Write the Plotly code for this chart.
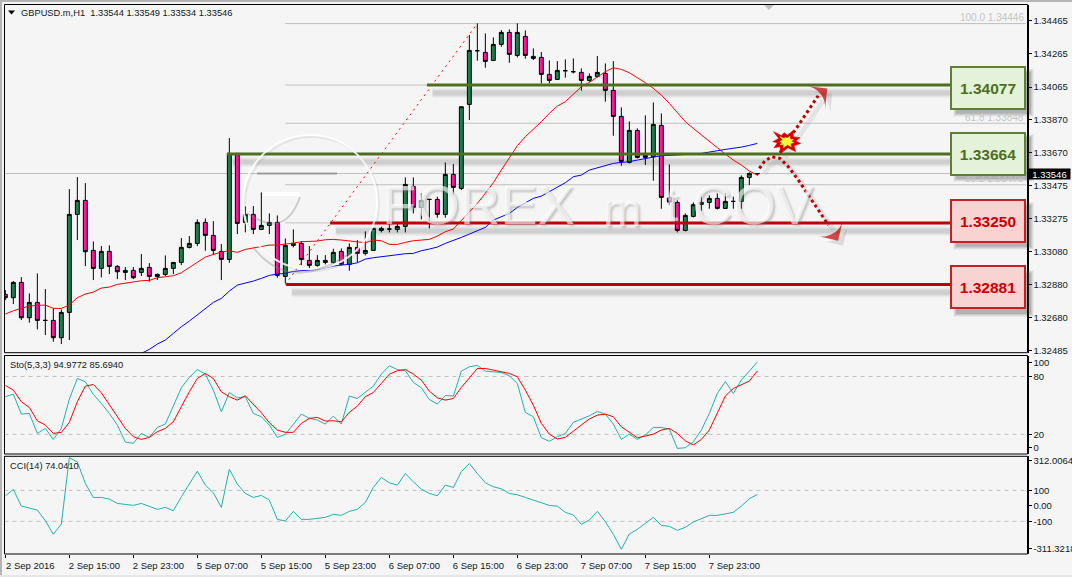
import plotly.graph_objects as go

# GBPUSD.m H1 candles, one row per bar, plus indicator series
opens = [1.32821,1.32801,1.32893,1.32681,1.32773,1.32665,1.32665,1.32561,1.32713,1.33301,
         1.33385,1.33085,1.32977,1.33079,1.32989,1.32953,1.32965,1.32953,1.32983,1.32929,
         1.32941,1.32977,1.33013,1.33103,1.33127,1.33253,1.33175,1.33079,1.33031,1.33667,
         1.33253,1.33301,1.33211,1.33235,1.33253,1.32929,1.33115,1.33127,1.33025,1.32995,
         1.33025,1.33013,1.33079,1.33001,1.33103,1.33067,1.33085,1.33205,1.33213,1.33211,
         1.33229,1.33469,1.33343,1.33391,1.33391,1.33301,1.33541,1.33457,1.33961,1.34283,
         1.34273,1.34225,1.34321,1.34393,1.34255,1.34369,1.34249,1.34243,1.34141,1.34111,
         1.34163,1.34157,1.34153,1.34105,1.34129,1.34147,1.34045,1.33889,1.33613,1.33805,
         1.33643,1.33647,1.33835,1.33403,1.33373,1.33205,1.33289,1.33361,1.33373,1.33397,
         1.33337,1.33379,1.33379,1.33523,1.33544]
highs = [1.32847,1.32901,1.32925,1.32827,1.32947,1.32853,1.32737,1.32731,1.33453,1.33525,
         1.33489,1.33139,1.33111,1.33115,1.32997,1.32985,1.32985,1.33063,1.33009,1.32947,
         1.33055,1.33013,1.33159,1.33171,1.33271,1.33277,1.33261,1.33123,1.33759,1.33667,
         1.33349,1.33351,1.33433,1.33307,1.33295,1.33157,1.33211,1.33141,1.33111,1.33057,
         1.33057,1.33095,1.33097,1.33127,1.33147,1.33199,1.33217,1.33227,1.33265,1.33257,
         1.33523,1.33523,1.33427,1.33391,1.33407,1.33613,1.33603,1.33947,1.34377,1.34447,
         1.34387,1.34363,1.34407,1.34411,1.34447,1.34405,1.34297,1.34275,1.34225,1.34221,
         1.34231,1.34237,1.34177,1.34147,1.34251,1.34207,1.34221,1.33943,1.33859,1.33817,
         1.33895,1.33973,1.33907,1.33601,1.33385,1.33307,1.33373,1.33407,1.33415,1.33427,
         1.33429,1.33407,1.33535,1.33553,1.33549]
lows = [1.32787,1.32763,1.32667,1.32651,1.32611,1.32577,1.32537,1.32523,1.32547,1.33147,
        1.32991,1.32907,1.32923,1.32943,1.32913,1.32907,1.32913,1.32931,1.32897,1.32907,
        1.32931,1.32943,1.32997,1.33097,1.33111,1.33083,1.33057,1.32907,1.33011,1.33183,
        1.33193,1.33183,1.33207,1.33183,1.32921,1.32887,1.33103,1.32997,1.32971,1.32987,
        1.33001,1.33007,1.32995,1.32963,1.33013,1.33055,1.33083,1.33193,1.33193,1.33193,
        1.33193,1.33307,1.33271,1.33217,1.33281,1.33281,1.33417,1.33447,1.33867,1.34223,
        1.34181,1.34221,1.34307,1.34211,1.34243,1.34235,1.34227,1.34087,1.34087,1.34107,
        1.34121,1.34147,1.34043,1.34097,1.34123,1.33977,1.33773,1.33593,1.33607,1.33637,
        1.33597,1.33503,1.33335,1.33355,1.33193,1.33199,1.33283,1.33323,1.33335,1.33331,
        1.33335,1.33335,1.33335,1.33477,1.33534]
closes = [1.32801,1.32893,1.32681,1.32773,1.32665,1.32665,1.32561,1.32713,1.33301,1.33385,
          1.33077,1.32977,1.33079,1.32989,1.32957,1.32965,1.32921,1.32977,1.32929,1.32941,
          1.32977,1.33013,1.33103,1.33127,1.33253,1.33175,1.33085,1.33031,1.33667,1.33247,
          1.33301,1.33211,1.33235,1.33253,1.32935,1.33115,1.33127,1.33031,1.32995,1.33025,
          1.33013,1.33073,1.33001,1.33103,1.33067,1.33085,1.33217,1.33217,1.33213,1.33229,
          1.33481,1.33343,1.33385,1.33391,1.33301,1.33541,1.33463,1.33947,1.34285,1.34283,
          1.34219,1.34321,1.34393,1.34261,1.34393,1.34255,1.34237,1.34141,1.34105,1.34165,
          1.34163,1.34157,1.34105,1.34129,1.34153,1.34045,1.33889,1.33619,1.33805,1.33643,
          1.33655,1.33841,1.33403,1.33375,1.33205,1.33295,1.33359,1.33373,1.33397,1.33337,
          1.33379,1.33379,1.33523,1.33547,1.33546]

ma_fast = [1.32703,1.32723,1.32737,1.32751,1.32755,1.32757,1.32737,1.32737,1.32757,1.32801,
           1.32823,1.32835,1.32859,1.32865,1.32881,1.32889,1.32897,1.32903,1.32905,1.32921,
           1.32927,1.32933,1.32951,1.32983,1.33013,1.33045,1.33061,1.33075,1.33083,1.33073,
           1.33091,1.33101,1.33109,1.33117,1.33117,1.33121,1.33129,1.33137,1.33139,1.33141,
           1.33149,1.33151,1.33147,1.33141,1.33137,1.33131,1.33147,1.33143,1.33121,1.33121,
           1.33133,1.33143,1.33147,1.33151,1.33171,1.33197,1.33213,1.33263,1.33317,1.33367,
           1.33427,1.33491,1.33567,1.33637,1.33713,1.33767,1.33811,1.33857,1.33907,1.33951,
           1.33977,1.34021,1.34067,1.34093,1.34123,1.34157,1.34181,1.34171,1.34151,1.34123,
           1.34091,1.34057,1.34017,1.33967,1.33911,1.33857,1.33817,1.33777,1.33737,1.33701,
           1.33663,1.33627,1.33597,1.33561,1.33537]
ma_slow = [None]*17 + [
           1.32467,1.32491,1.32523,
           1.32547,1.32587,1.32627,1.32661,1.32697,1.32737,1.32773,1.32797,1.32841,1.32877,
           1.32887,1.32901,1.32917,1.32935,1.32943,1.32947,1.32959,1.32965,1.32967,1.32971,
           1.32983,1.32991,1.32997,1.33001,1.33011,1.33033,1.33041,1.33047,1.33053,1.33061,
           1.33065,1.33067,1.33083,1.33093,1.33105,1.33127,1.33143,1.33163,1.33183,1.33203,
           1.33223,1.33267,1.33287,1.33307,1.33343,1.33371,1.33397,1.33411,1.33437,1.33467,
           1.33491,1.33527,1.33537,1.33567,1.33581,1.33593,1.33607,1.33613,1.33617,1.33627,
           1.33635,1.33647,1.33653,1.33655,1.33657,1.33657,1.33663,1.33667,1.33673,1.33683,
           1.33691,1.33697,1.33705,1.33715,1.33727]

sto_main = [59.0,61.7,41.0,41.7,21.0,26.2,14.8,26.2,56.6,77.9,
            74.5,61.4,52.1,41.7,29.7,12.1,10.7,21.0,16.9,27.2,
            30.7,48.6,68.3,79.0,87.2,82.4,65.9,43.4,63.4,57.9,
            59.0,41.7,38.3,29.7,16.9,20.0,30.7,41.0,36.6,34.8,
            30.7,39.0,30.7,59.7,57.2,64.1,70.0,82.4,91.0,87.2,
            85.9,73.8,68.3,56.2,51.4,60.3,59.7,85.5,90.0,91.4,
            85.5,84.8,84.1,80.7,72.8,42.8,38.3,16.6,12.8,17.6,
            21.0,32.4,35.9,39.3,43.8,41.0,30.7,14.8,20.3,14.8,
            19.3,27.2,27.2,25.5,5.5,6.2,12.4,24.5,41.7,62.4,
            74.8,62.4,76.2,85.9,94.9772]
sto_signal = [70.7,65.9,53.8,47.9,34.1,29.7,21.0,22.1,32.4,53.8,
              70.0,71.7,63.1,51.0,39.0,26.2,17.6,14.8,16.9,22.8,
              26.2,33.1,48.6,64.1,77.9,83.1,77.9,64.1,59.0,55.5,
              60.0,51.0,42.4,32.1,24.5,22.1,22.1,31.4,36.6,37.6,
              33.8,34.1,33.1,42.8,49.3,59.0,63.4,72.8,82.4,85.9,
              87.2,82.4,76.2,64.8,57.9,55.5,57.2,68.6,79.0,88.3,
              88.3,86.6,84.5,83.1,79.7,65.9,50.3,31.4,20.3,15.2,
              16.9,23.8,29.7,35.9,40.0,41.0,38.3,27.9,22.1,16.6,
              18.3,20.3,24.5,26.2,21.0,13.4,9.0,14.8,24.5,41.7,
              59.7,67.6,71.7,75.2,85.694]
cci = [65.6,106.5,-1.1,-16.1,-26.9,-95.7,-183.9,-117.2,312.0,285.0,
       145.2,54.8,54.8,44.1,16.1,9.7,3.2,16.1,-5.4,-22.6,
       -9.7,-31.2,59.1,145.2,224.7,134.4,84.9,-9.7,237.6,140.9,
       80.6,54.8,67.7,37.6,-87.1,-97.8,-35.5,-87.1,-87.1,-80.6,
       -74.2,-54.8,-61.3,-35.5,-22.6,22.6,119.4,183.9,149.5,134.4,
       209.7,155.9,108.6,80.6,65.6,134.4,119.4,220.4,274.2,209.7,
       149.5,123.7,110.8,80.6,72.0,54.8,39.8,20.4,3.2,-1.1,
       -41.9,-59.1,-119.4,-91.4,-35.5,-102.2,-183.9,-280.6,-181.7,-151.6,
       -112.9,-74.2,-125.8,-132.3,-158.1,-138.7,-104.3,-82.8,-61.3,-61.3,
       -50.5,-41.9,-1.1,46.2,74.041]

time_tick_bars = [0, 8, 16, 24, 32, 40, 48, 56, 64, 72, 80, 88]
time_tick_labels = ["2 Sep 2016", "2 Sep 15:00", "2 Sep 23:00", "5 Sep 07:00", "5 Sep 15:00",
                    "5 Sep 23:00", "6 Sep 07:00", "6 Sep 15:00", "6 Sep 23:00", "7 Sep 07:00",
                    "7 Sep 15:00", "7 Sep 23:00"]
price_ticks = [1.34465, 1.34265, 1.34065, 1.33870, 1.33670, 1.33475, 1.33275, 1.33080,
               1.32880, 1.32680, 1.32485]
price_labels = [f"{p:.5f}" for p in price_ticks]

# Support and resistance levels: value, first bar of the line, vertical nudge of the tag
resistance_levels = [1.34077, 1.33664]
resistance_starts = [52.7, 27.7]
resistance_nudge = [-3, 0]
support_levels = [1.33250, 1.32881]
support_starts = [40.6, 35.1]
support_nudge = [2, -3]

fib_levels = [1.34446, 1.34077, 1.33848, 1.33479, 1.33250, 1.32881]
fib_labels = {1.34446: "100.0 1.34446", 1.33848: "61.8 1.33848", 1.33479: "38.2 1.33479"}
last_price = 1.33546

# Scenario arrows, as bar number and price
up_path_bars = [96.83, 101.6]
up_path_prices = [1.33671, 1.34013]
up_head_bars = [101.6, 102.75]
up_head_prices = [1.34013, 1.34057]
down_path_bars = [94.25, 94.96, 95.79, 96.83, 97.88, 99.13, 100.38, 101.63, 102.88]
down_path_prices = [1.33577, 1.33623, 1.33647, 1.33637, 1.33587, 1.33507, 1.33417, 1.33327, 1.33237]
down_head_bars = [102.88, 104.1]
down_head_prices = [1.33237, 1.33143]

WIDTH, HEIGHT = 1072, 577
GREEN_DARK = "#4d6f1f"
RED_DARK = "#c00000"
TEXT = "#101820"
FONT = "Liberation Sans"

PRICE_TOP, PRICE_PER_PX = 1.345874, 0.00006


def px_x(x):
    return x / WIDTH


def px_y(y):
    return 1 - y / HEIGHT


def bar_x(x):
    return (x - 5.33) / 8


def price_y(y):
    return PRICE_TOP - PRICE_PER_PX * y


fig = go.Figure()

# Fibonacci trend line from swing low to swing high
fig.add_trace(go.Scatter(x=[35, 59], y=[1.32881, 1.34446], mode="lines",
                         line=dict(color="#ff0000", width=1, dash="2px,4px"), yaxis="y"))

fig.add_trace(go.Candlestick(
    x=list(range(len(opens))), open=opens, high=highs, low=lows, close=closes, yaxis="y",
    increasing=dict(line=dict(color="#000000", width=1), fillcolor="#1f7d4d"),
    decreasing=dict(line=dict(color="#000000", width=1), fillcolor="#ff1493"),
    whiskerwidth=0))

bars = list(range(len(opens)))
fig.add_trace(go.Scatter(x=bars, y=ma_fast, mode="lines", line=dict(color="#ff0000", width=1), yaxis="y"))
fig.add_trace(go.Scatter(x=bars, y=ma_slow, mode="lines", line=dict(color="#0000ff", width=1), yaxis="y"))

# Level lines run from their anchor bar up to the value tags
for levels, starts, colour in ((resistance_levels, resistance_starts, GREEN_DARK),
                               (support_levels, support_starts, RED_DARK)):
    for level, start in zip(levels, starts):
        fig.add_trace(go.Scatter(x=[start, 118.3], y=[level, level], mode="lines",
                                 line=dict(color=colour, width=3), yaxis="y"))

# Arrow shadows, then the arrows themselves
shift_x, shift_y = 5 / 8, 5 * PRICE_PER_PX
for path_x, path_y in ((up_path_bars, up_path_prices), (down_path_bars, down_path_prices)):
    fig.add_trace(go.Scatter(x=[v + shift_x for v in path_x], y=[v - shift_y for v in path_y],
                             mode="lines", line=dict(color="rgba(110,110,110,0.12)", width=5), yaxis="y"))
for head_x, head_y in ((up_head_bars, up_head_prices), (down_head_bars, down_head_prices)):
    fig.add_trace(go.Scatter(x=[v + shift_x for v in head_x], y=[v - shift_y for v in head_y], mode="markers",
                             marker=dict(symbol="arrow-wide", size=[0, 21], color="rgba(110,110,110,0.25)",
                                         angleref="previous", line=dict(width=0)), yaxis="y"))
    fig.add_trace(go.Scatter(x=head_x, y=head_y, mode="markers",
                             marker=dict(symbol="arrow-wide", size=[0, 21], color=RED_DARK,
                                         angleref="previous", line=dict(width=0)), yaxis="y"))
for path_x, path_y in ((up_path_bars, up_path_prices), (down_path_bars, down_path_prices)):
    fig.add_trace(go.Scatter(x=path_x, y=path_y, mode="lines",
                             line=dict(color=RED_DARK, width=3, dash="3px,3px"), yaxis="y"))

# Breakout burst drawn as two filled spiked outlines
burst_dx = [-13.3, -5.3, -2.7, 0.7, 6.3, 6.7, 13.3, 9, 14, 7.3, 9, 1.3, -6, -6.7, -12.7, -9.3, -14, -8, -13.3]
burst_dy = [10, 6.3, 9, 6.7, 11, 5, 4, 0.7, -1.7, -4, -10, -6, -11.7, -5, -6, -1, 0, 3.3, 10]
burst_bar, burst_price = bar_x(786.7), price_y(141.7)
for scale, fill in ((1.0, "#d80000"), (0.5, "#ffff3c")):
    fig.add_trace(go.Scatter(x=[burst_bar + scale * d / 8 for d in burst_dx],
                             y=[burst_price + scale * d * PRICE_PER_PX for d in burst_dy],
                             mode="lines", fill="toself", fillcolor=fill,
                             line=dict(color=fill, width=0.5), yaxis="y"))

# Stochastic and CCI panes
fig.add_trace(go.Scatter(x=bars, y=sto_main, mode="lines", line=dict(color="#20b2aa", width=1), yaxis="y2"))
fig.add_trace(go.Scatter(x=bars, y=sto_signal, mode="lines", line=dict(color="#ff0000", width=1), yaxis="y2"))
fig.add_trace(go.Scatter(x=bars, y=cci, mode="lines", line=dict(color="#20b2aa", width=1), yaxis="y3"))

shapes = []
FRAME_L, FRAME_R = 4.5, 1027.5
x_left, x_right = bar_x(FRAME_L), bar_x(FRAME_R)
fib_right = bar_x(1026)

# Window chrome along the top and left edges
shapes.append(dict(type="rect", xref="paper", yref="paper", x0=0, x1=1, y0=px_y(2), y1=1,
                   fillcolor="#b4b4b4", line=dict(width=0), layer="below"))
shapes.append(dict(type="rect", xref="paper", yref="paper", x0=0, x1=px_x(2), y0=0, y1=1,
                   fillcolor="#b4b4b4", line=dict(width=0), layer="below"))
shapes.append(dict(type="rect", xref="paper", yref="paper", x0=0, x1=1, y0=0, y1=px_y(575),
                   fillcolor="#e6e6e6", line=dict(width=0), layer="below"))

# Fibonacci levels and the running price line
for level in fib_levels:
    shapes.append(dict(type="line", xref="x", yref="y", x0=35, x1=fib_right, y0=level, y1=level,
                       line=dict(color="#c0c0c0", width=1), layer="below"))
shapes.append(dict(type="line", xref="x", yref="y", x0=x_left, x1=x_right, y0=last_price, y1=last_price,
                   line=dict(color="#c0c0c0", width=1), layer="below"))

# Soft shadows under the level lines
for levels, starts in ((resistance_levels, resistance_starts), (support_levels, support_starts)):
    for level, start in zip(levels, starts):
        for half, alpha in ((5, 0.05), (4, 0.06), (3, 0.07), (2, 0.08)):
            shapes.append(dict(type="rect", xref="x", yref="y", x0=start + 0.7, x1=118.3,
                               y0=level - (8 + half) * PRICE_PER_PX, y1=level - (8 - half) * PRICE_PER_PX,
                               fillcolor=f"rgba(90,90,90,{alpha})", line=dict(width=0), layer="below"))

# Dashed overbought and oversold guides
for axis, guides in (("y2", (80, 20)), ("y3", (100, -100))):
    for guide in guides:
        shapes.append(dict(type="line", xref="x", yref=axis, x0=x_left, x1=x_right, y0=guide, y1=guide,
                           line=dict(color="#c0c0c0", width=1, dash="4px,4px"), layer="below"))

# Soft shadows behind the value tags
for top, bottom in ((66.7, 108.7), (132, 174), (200, 241.7), (268, 309)):
    for grow, alpha in ((3, 0.06), (2, 0.09), (1, 0.12), (0, 0.16)):
        shapes.append(dict(type="rect", xref="paper", yref="paper",
                           x0=px_x(956 - grow), x1=px_x(1031 + grow),
                           y0=px_y(bottom + 5 + grow), y1=px_y(top + 5 - grow),
                           fillcolor=f"rgba(70,70,70,{alpha})", line=dict(width=0), layer="above"))

# Round logo mark of the watermark
cx, cy, r = 310, 202, 67
for off, colour, width in ((2, "rgba(140,140,140,0.16)", 2), (0, "rgba(255,255,255,0.85)", 2)):
    shapes.append(dict(type="circle", xref="paper", yref="paper",
                       x0=px_x(cx - r + off), x1=px_x(cx + r + off), y0=px_y(cy + r + off), y1=px_y(cy - r + off),
                       line=dict(color=colour, width=width), layer="above"))
shapes.append(dict(type="line", xref="paper", yref="paper", x0=px_x(257), x1=px_x(337), y0=px_y(173.5), y1=px_y(173.5),
                   line=dict(color="rgba(120,120,120,0.6)", width=2), layer="above"))
shapes.append(dict(type="line", xref="paper", yref="paper", x0=px_x(263), x1=px_x(300), y0=px_y(194), y1=px_y(194),
                   line=dict(color="rgba(255,255,255,0.9)", width=4), layer="above"))
for (x0, y0), (qx, qy), (x1, y1) in (((247, 213), (285, 240), (300, 197)), ((253, 247), (290, 295), (350, 253))):
    shapes.append(dict(type="path", xref="paper", yref="paper",
                       path=f"M {px_x(x0)},{px_y(y0)} Q {px_x(qx)},{px_y(qy)} {px_x(x1)},{px_y(y1)}",
                       line=dict(color="rgba(130,130,130,0.35)", width=2), layer="above"))

# Panel frames
for top, bottom in ((4.5, 352.7), (355.5, 454), (456.3, 554)):
    shapes.append(dict(type="rect", xref="paper", yref="paper", x0=px_x(FRAME_L), x1=px_x(FRAME_R),
                       y0=px_y(bottom), y1=px_y(top), line=dict(color="#000000", width=1), layer="above"))

# Chart-menu and shift markers
shapes.append(dict(type="path", xref="paper", yref="paper", line=dict(width=0), fillcolor="#000000",
                   path=f"M {px_x(8)},{px_y(10.5)} L {px_x(15)},{px_y(10.5)} L {px_x(11.5)},{px_y(14.5)} Z"))
shapes.append(dict(type="path", xref="paper", yref="paper", line=dict(width=0), fillcolor="#c0c0c0",
                   path=f"M {px_x(764)},{px_y(5)} L {px_x(774)},{px_y(5)} L {px_x(769)},{px_y(10)} Z"))

annotations = []


def label(text, x, y, size=10, colour=TEXT, xanchor="left", shadow=None):
    font = dict(family=FONT, size=size, color=colour)
    if shadow:
        font["shadow"] = shadow
    annotations.append(dict(text=text, xref="paper", yref="paper", x=px_x(x), y=px_y(y), showarrow=False,
                            xanchor=xanchor, yanchor="middle", font=font, borderpad=0))


# Watermark lettering, white with an embossed grey edge
emboss = "2px 2px 2px rgba(110,110,110,0.55)"
for text, x, y, size in (("FOREX", 478, 204, 56), ("m", 622, 210, 46), ("t", 671, 204, 48), ("COV", 753, 204, 56)):
    label(text, x, y, size, "rgba(255,255,255,0.62)", "center", emboss)

label("GBPUSD.m,H1\u00a0\u00a01.33544 1.33549 1.33534 1.33546", 20, 12.5, 9.3)
label("Sto(5,3,3) 94.9772 85.6940", 9, 364.7, 9.3)
label("CCI(14) 74.0410", 9, 465.7, 9.3)

for level, text in fib_labels.items():
    annotations.append(dict(text=text, xref="paper", yref="y", x=px_x(1026), y=level, yshift=6,
                            showarrow=False, xanchor="right", yanchor="middle",
                            font=dict(family=FONT, size=10, color="#c4c4c4")))

# Value tags carry the level they sit on
for levels, nudges, edge, fill, ink in ((resistance_levels, resistance_nudge, "#5d8034", "#e3f2d8", GREEN_DARK),
                                        (support_levels, support_nudge, "#c82020", "#f9d2d2", "#cc0000")):
    for level, nudge in zip(levels, nudges):
        annotations.append(dict(text=f"<b>{level:.5f}</b>", xref="paper", yref="y", x=px_x(988.3), y=level, yshift=nudge,
                                showarrow=False, xanchor="center", yanchor="middle", width=72, height=40,
                                bgcolor=fill, bordercolor=edge, borderwidth=2, borderpad=0,
                                font=dict(family=FONT, size=15.5, color=ink)))

# Last price tag on the axis
annotations.append(dict(text=f"{last_price:.5f}", xref="paper", yref="y", x=px_x(1049.7), y=last_price,
                        showarrow=False, xanchor="center", yanchor="middle", width=41, height=10,
                        bgcolor="#000000", borderpad=0, font=dict(family=FONT, size=9.5, color="#ffffff")))

axis_font = dict(family=FONT, size=9.5, color=TEXT)
y_common = dict(side="right", anchor="x", showgrid=False, zeroline=False, showline=True, linecolor="#000000",
                linewidth=1, ticks="outside", ticklen=3, tickcolor="#000000", tickmode="array", tickfont=axis_font,
                ticklabelstandoff=0, fixedrange=True)

fig.update_layout(
    width=WIDTH, height=HEIGHT, margin=dict(l=0, r=0, t=0, b=0, autoexpand=False), autosize=False,
    paper_bgcolor="#f5f5f5", plot_bgcolor="#f5f5f5", showlegend=False, hovermode=False, boxgap=0.3,
    xaxis=dict(domain=[px_x(FRAME_L), px_x(FRAME_R)], range=[x_left, x_right], anchor="y3",
               rangeslider=dict(visible=False), showgrid=False, zeroline=False, showline=False,
               ticks="outside", ticklen=3, tickcolor="#000000", tickmode="array",
               tickvals=time_tick_bars, ticktext=time_tick_labels, tickfont=axis_font,
               ticklabelshift=25, ticklabelstandoff=0, fixedrange=True),
    yaxis=dict(domain=[px_y(352.7), px_y(4.5)], range=[price_y(352.7), price_y(4.5)],
               tickvals=price_ticks, ticktext=price_labels, **y_common),
    yaxis2=dict(domain=[px_y(454), px_y(355.5)], range=[-0.3, 101.7],
                tickvals=[94.5, 80, 20, 6.2], ticktext=["100", "80", "20", "0"], **y_common),
    yaxis3=dict(domain=[px_y(554), px_y(456.3)], range=[-311.3, 321],
                tickvals=[295, 100, 0, -100, -276], ticktext=["312.0064", "100", "0.00", "-100", "-311.3218"], **y_common),
    shapes=shapes, annotations=annotations,
)

fig.write_html("out.html")
